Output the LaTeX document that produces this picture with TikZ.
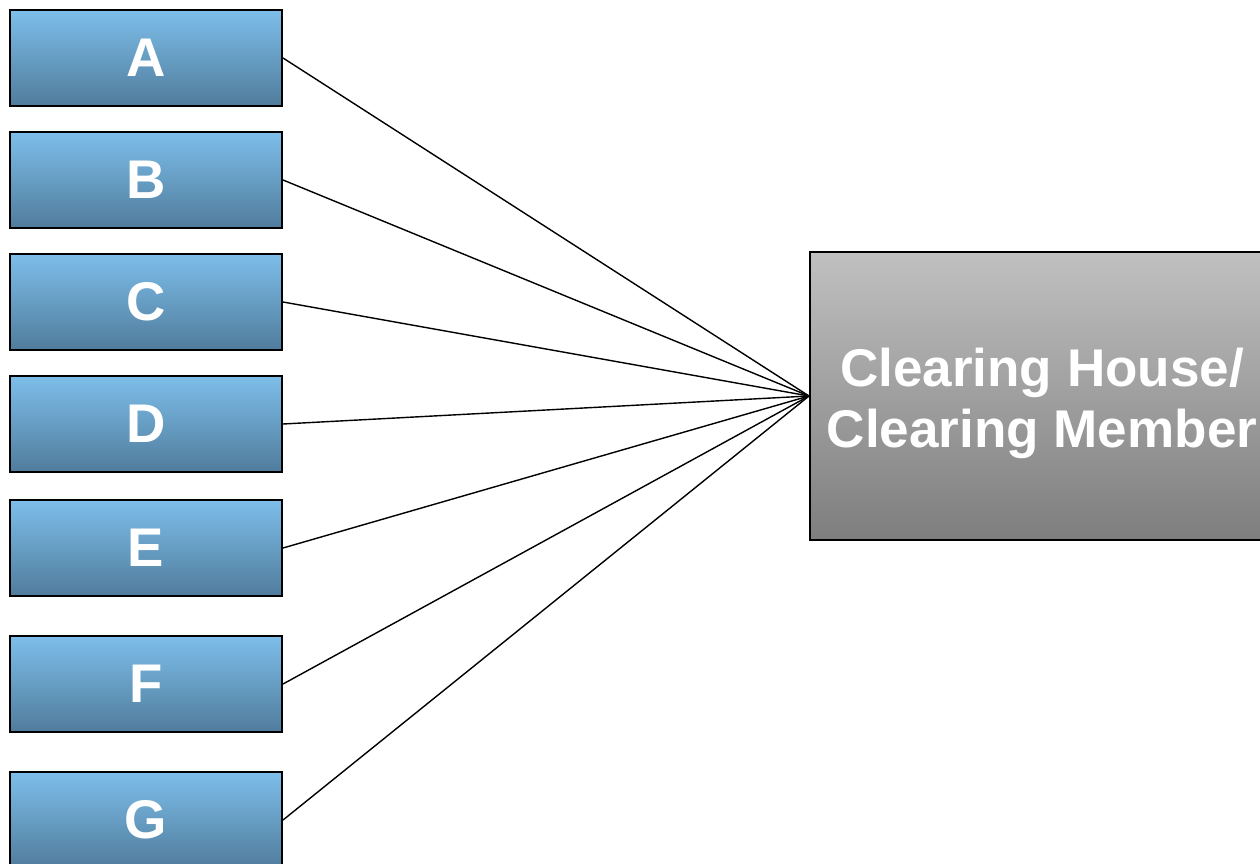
\documentclass[tikz,border=0pt]{standalone}
\usepackage{fontspec}
\setmainfont{Liberation Sans}
\usetikzlibrary{shapes,calc}
\definecolor{boxtop}{RGB}{125,190,234}
\definecolor{boxbot}{RGB}{80,124,156}
\definecolor{cmtop}{RGB}{192,192,192}
\definecolor{cmbot}{RGB}{126,126,126}
\tikzset{
  boxlabel/.style = {align=center, inner sep=0pt, text centered, white, font=\fontsize{31pt}{35pt}\selectfont\bfseries},
  party/.style = {boxlabel, rectangle, draw=black, line width=1.2pt, top color=boxtop, bottom color=boxbot, minimum width=5.44cm, minimum height=1.92cm},
  clearing/.style = {boxlabel, font=\fontsize{30.2pt}{35pt}\selectfont\bfseries, text height=65pt, text depth=6pt,
    rectangle, draw=black, line width=1.2pt, top color=cmtop, bottom color=cmbot, minimum width=9.28cm, minimum height=5.76cm},
  link/.style = {draw=black, line width=0.8pt}
}

\begin{document}
\begin{tikzpicture}[x=0.02cm, y=-0.02cm]
	\useasboundingbox (0,0) rectangle (1260,864);
	\clip (0,0) rectangle (1260,864);
	% trading parties
	\node [party] (A) at (146,58)  {A};
	\node [party] (B) at (146,180) {B};
	\node [party] (C) at (146,302) {C};
	\node [party] (D) at (146,424) {D};
	\node [party] (E) at (146,548) {E};
	\node [party] (F) at (146,684) {F};
	\node [party] (G) at (146,820) {G};
	% central counterparty
	\node [clearing] (CH) at (1042,396) {Clearing House/\\Clearing Member};
	% every party trades with the clearing house
	\draw [link] (A.east) -- (CH.west);
	\draw [link] (B.east) -- (CH.west);
	\draw [link] (C.east) -- (CH.west);
	\draw [link] (D.east) -- (CH.west);
	\draw [link] (E.east) -- (CH.west);
	\draw [link] (F.east) -- (CH.west);
	\draw [link] (G.east) -- (CH.west);
\end{tikzpicture}
\end{document}
